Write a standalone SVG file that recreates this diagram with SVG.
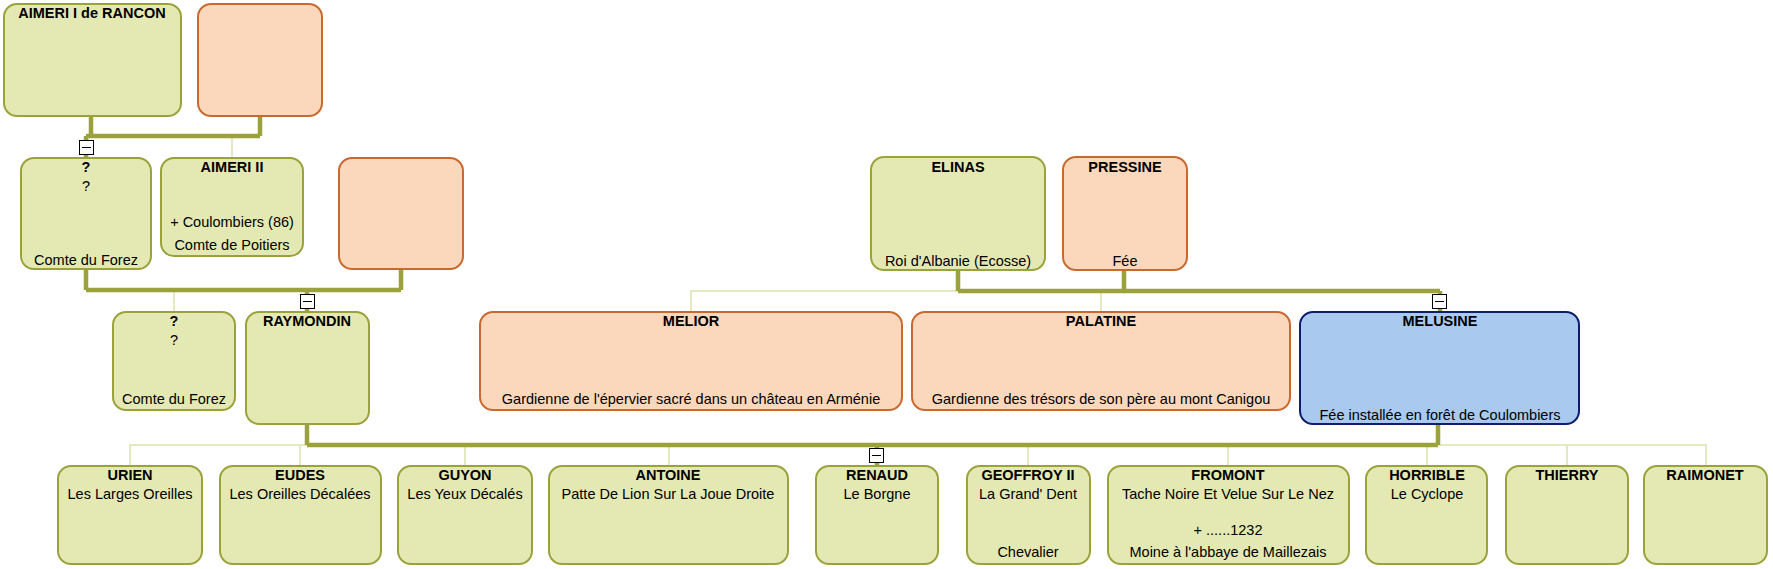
<svg xmlns="http://www.w3.org/2000/svg" width="1773" height="569" viewBox="0 0 1773 569">
<style>
.g{fill:#e4e9b3;stroke:#9ba23c;stroke-width:2}
.o{fill:#fbd7bb;stroke:#c8692f;stroke-width:2}
.b{fill:#a9c9ef;stroke:#101c6c;stroke-width:2}
.thick{fill:none;stroke:#9ba23c;stroke-width:4.5}
.thin{fill:none;stroke:#e5e9c2;stroke-width:2}
.mb{fill:#fff;stroke:#000;stroke-width:1}
.mm{stroke:#000;stroke-width:1}
text{font-family:"Liberation Sans",Arial,sans-serif;font-size:14.5px;fill:#000;text-anchor:middle}
.n{font-weight:bold}
</style>
<g id="connectors">
<path class="thin" d="M232 136V158"/>
<path class="thin" d="M174 290V312"/>
<path class="thin" d="M691 312V291H958M1101 291V312"/>
<path class="thin" d="M130 466V445H307M300 445V466M465 445V466M669 445V466M1028 445V466M1228 445V466"/>
<path class="thin" d="M1438 445H1706V466M1427 445V466M1567 445V466"/>
<path class="thick" d="M91 116V136M260 116V136M86 136H260M86 136V140M86 154V158"/>
<path class="thick" d="M86 269V290M401 269V290M86 290H401M307 290V294M307 308V312"/>
<path class="thick" d="M958 270V291M1124 270V291M958 291H1440M1440 291V294M1440 308V312"/>
<path class="thick" d="M307 424V445M1438 424V445M307 445H1438M877 445V448M877 463V466"/>
<rect class="mb" x="79.5" y="140.5" width="14" height="14"/><path class="mm" d="M82 147.5H91"/>
<rect class="mb" x="300.5" y="294.5" width="14" height="14"/><path class="mm" d="M303 301.5H312"/>
<rect class="mb" x="1432.5" y="294.5" width="14" height="14"/><path class="mm" d="M1435 301.5H1444"/>
<rect class="mb" x="869.5" y="448.5" width="14" height="14"/><path class="mm" d="M872 455.5H881"/>
</g>
<g id="aimeri1"><rect class="g" x="4" y="4" width="177" height="112" rx="13"/><text class="n" x="92" y="18">AIMERI I de RANCON</text></g>
<g id="spouse1"><rect class="o" x="198" y="4" width="124" height="112" rx="13"/></g>
<g id="q1"><rect class="g" x="21" y="158" width="130" height="111" rx="13"/><text class="n" x="86" y="172">?</text><text x="86" y="191">?</text><text x="86" y="265">Comte du Forez</text></g>
<g id="aimeri2"><rect class="g" x="161" y="158" width="142" height="98" rx="13"/><text class="n" x="232" y="172">AIMERI II</text><text x="232" y="227">+ Coulombiers (86)</text><text x="232" y="250">Comte de Poitiers</text></g>
<g id="spouse2"><rect class="o" x="339" y="158" width="124" height="111" rx="13"/></g>
<g id="elinas"><rect class="g" x="871" y="157" width="174" height="113" rx="13"/><text class="n" x="958" y="172">ELINAS</text><text x="958" y="266">Roi d'Albanie (Ecosse)</text></g>
<g id="pressine"><rect class="o" x="1063" y="157" width="124" height="113" rx="13"/><text class="n" x="1125" y="172">PRESSINE</text><text x="1125" y="266">Fée</text></g>
<g id="q2"><rect class="g" x="113" y="312" width="122" height="98" rx="13"/><text class="n" x="174" y="326">?</text><text x="174" y="345">?</text><text x="174" y="404">Comte du Forez</text></g>
<g id="raymondin"><rect class="g" x="246" y="312" width="123" height="112" rx="13"/><text class="n" x="307" y="326">RAYMONDIN</text></g>
<g id="melior"><rect class="o" x="480" y="312" width="422" height="98" rx="13"/><text class="n" x="691" y="326">MELIOR</text><text x="691" y="404">Gardienne de l'épervier sacré dans un château en Arménie</text></g>
<g id="palatine"><rect class="o" x="912" y="312" width="378" height="98" rx="13"/><text class="n" x="1101" y="326">PALATINE</text><text x="1101" y="404">Gardienne des trésors de son père au mont Canigou</text></g>
<g id="melusine"><rect class="b" x="1300" y="312" width="279" height="112" rx="13"/><text class="n" x="1440" y="326">MELUSINE</text><text x="1440" y="420">Fée installée en forêt de Coulombiers</text></g>
<g id="urien"><rect class="g" x="58" y="466" width="144" height="98" rx="13"/><text class="n" x="130" y="480">URIEN</text><text x="130" y="499">Les Larges Oreilles</text></g>
<g id="eudes"><rect class="g" x="220" y="466" width="161" height="98" rx="13"/><text class="n" x="300" y="480">EUDES</text><text x="300" y="499">Les Oreilles Décalées</text></g>
<g id="guyon"><rect class="g" x="398" y="466" width="134" height="98" rx="13"/><text class="n" x="465" y="480">GUYON</text><text x="465" y="499">Les Yeux Décalés</text></g>
<g id="antoine"><rect class="g" x="549" y="466" width="239" height="98" rx="13"/><text class="n" x="668" y="480">ANTOINE</text><text x="668" y="499">Patte De Lion Sur La Joue Droite</text></g>
<g id="renaud"><rect class="g" x="816" y="466" width="122" height="98" rx="13"/><text class="n" x="877" y="480">RENAUD</text><text x="877" y="499">Le Borgne</text></g>
<g id="geoffroy"><rect class="g" x="967" y="466" width="123" height="98" rx="13"/><text class="n" x="1028" y="480">GEOFFROY II</text><text x="1028" y="499">La Grand' Dent</text><text x="1028" y="557">Chevalier</text></g>
<g id="fromont"><rect class="g" x="1108" y="466" width="241" height="98" rx="13"/><text class="n" x="1228" y="480">FROMONT</text><text x="1228" y="499">Tache Noire Et Velue Sur Le Nez</text><text x="1228" y="535">+ ......1232</text><text x="1228" y="557">Moine à l'abbaye de Maillezais</text></g>
<g id="horrible"><rect class="g" x="1366" y="466" width="121" height="98" rx="13"/><text class="n" x="1427" y="480">HORRIBLE</text><text x="1427" y="499">Le Cyclope</text></g>
<g id="thierry"><rect class="g" x="1506" y="466" width="122" height="98" rx="13"/><text class="n" x="1567" y="480">THIERRY</text></g>
<g id="raimonet"><rect class="g" x="1644" y="466" width="123" height="98" rx="13"/><text class="n" x="1705" y="480">RAIMONET</text></g>
</svg>
